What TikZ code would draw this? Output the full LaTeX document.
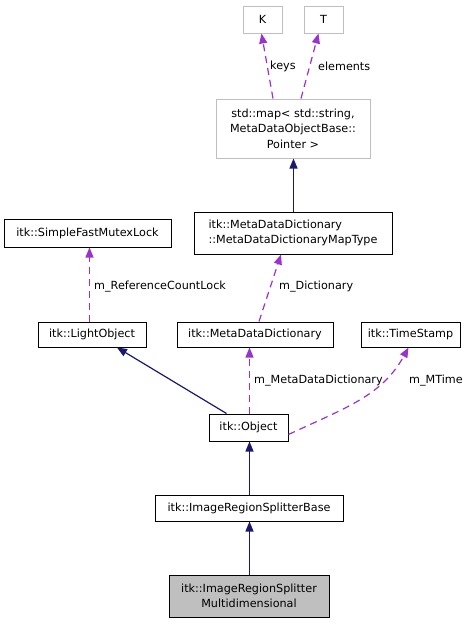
\documentclass[tikz,border=0pt]{standalone}
\usepackage{fontspec}
\setmainfont{DejaVu Sans}
\usepackage{xcolor}
\usepackage{tikz}
\usetikzlibrary{arrows.meta}

\definecolor{navy}{HTML}{191970}
\definecolor{orchid}{HTML}{9A32CD}
\definecolor{boxgray}{HTML}{BFBFBF}

\begin{document}
\begin{tikzpicture}[
        x=1pt, y=-1pt,
        font=\fontsize{11.2}{15.5}\selectfont,
        cls/.style={rectangle, draw=black, line width=1pt, fill=white, inner sep=0pt, align=center},
        tmpl/.style={cls, draw=boxgray},
        current/.style={cls, fill=boxgray},
        inherit/.style={-{Triangle[length=10pt,width=8pt,fill=navy]}, draw=navy, line width=1.2pt},
        member/.style={-{Triangle[length=10pt,width=8pt,fill=orchid]}, draw=orchid, line width=1.2pt, dash pattern=on 7pt off 5pt},
        lbl/.style={inner sep=0pt, anchor=west}
      ]
        \useasboundingbox (0,0) rectangle (473,624);

        % Template arguments
        \node[tmpl, minimum width=39pt, minimum height=27pt] (k) at (262.5,19.5) {K};
        \node[tmpl, minimum width=39pt, minimum height=27pt] (t) at (323.5,19.5) {T};
        \node[tmpl, minimum width=154pt, minimum height=59pt] (map) at (293,128.5) {std::map< std::string,\\MetaDataObjectBase::\\Pointer >};

        % Members
        \node[cls, minimum width=167pt, minimum height=28pt] (lock) at (87.5,233) {itk::SimpleFastMutexLock};
        \node[cls, minimum width=198pt, minimum height=42pt, align=left] (maptype) at (293,233) {itk::MetaDataDictionary\\::MetaDataDictionaryMapType};
        \node[cls, minimum width=108pt, minimum height=25pt] (light) at (92,334.5) {itk::LightObject};
        \node[cls, minimum width=156pt, minimum height=25pt] (dict) at (255,334.5) {itk::MetaDataDictionary};
        \node[cls, minimum width=99pt, minimum height=25pt] (stamp) at (410.5,334.5) {itk::TimeStamp};

        % Class chain
        \node[cls, minimum width=79pt, minimum height=27pt] (object) at (248.5,427.5) {itk::Object};
        \node[cls, minimum width=188pt, minimum height=26pt] (base) at (249,508) {itk::ImageRegionSplitterBase};
        \node[current, minimum width=160pt, minimum height=42pt] (multi) at (249,596) {itk::ImageRegionSplitter\\Multidimensional};

        % Arrows
        \draw[member] ([xshift=-20pt]map.north) -- ([xshift=-1pt]k.south);
        \node[lbl] (keyslbl) at (270,66) {keys};
        \draw[member] ([xshift=8pt]map.north) -- ([xshift=-5pt]t.south);
        \node[lbl] (elemlbl) at (318,66) {elements};
        \draw[inherit] ([xshift=0.5pt]maptype.north) -- ([xshift=0.5pt]map.south);

        \draw[member] ([xshift=-2.5pt]light.north) -- ([xshift=2pt]lock.south);
        \node[lbl] (locklbl) at (94,287) {m\_ReferenceCountLock};
        \draw[member] ([xshift=4pt]dict.north) -- ([xshift=-12pt]maptype.south);
        \node[lbl] (dictlbl) at (279,287) {m\_Dictionary};

        \draw[inherit] ([xshift=-22pt]object.north) -- ([xshift=25pt]light.south);
        \draw[member] ([xshift=1pt]object.north) -- ([xshift=-5.5pt]dict.south);
        \node[lbl] (mddlbl) at (254,381) {m\_MetaDataDictionary};
        \draw[member] ([yshift=-7pt]object.east) .. controls (345,408) and (382,396) .. ([xshift=-2pt]stamp.south);
        \node[lbl] (mtimelbl) at (409,381) {m\_MTime};

        \draw[inherit] ([xshift=0.5pt]base.north) -- ([xshift=1pt]object.south);
        \draw[inherit] ([xshift=0.5pt]multi.north) -- ([xshift=0.5pt]base.south);
      \end{tikzpicture}
\end{document}
